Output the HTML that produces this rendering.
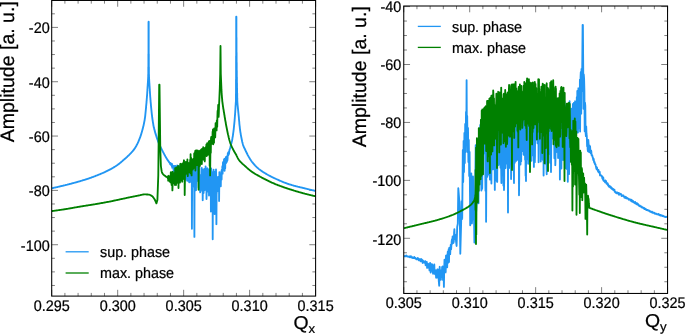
<!DOCTYPE html>
<html lang="en">
<head>
<meta charset="utf-8">
<title>Tune spectra: sup. phase vs max. phase</title>
<style>
html,body{margin:0;padding:0;background:#fff;}
body{width:685px;height:334px;overflow:hidden;font-family:"Liberation Sans", sans-serif;}
svg{display:block;}
</style>
</head>
<body>
<svg width="685" height="334" viewBox="0 0 685 334" font-family='"Liberation Sans", sans-serif' fill="#000" text-rendering="geometricPrecision">
<style>text{stroke:#000;stroke-width:0.24px;stroke-linejoin:round}</style>
<rect width="685" height="334" fill="#fff"/>
<g id="plot-left">
<clipPath id="cl"><rect x="51.7" y="0.45" width="263.90000000000003" height="295.65000000000003"/></clipPath>
<path d="M51.70,296.10v-6.30M51.70,0.45v6.30M64.90,296.10v-3.20M64.90,0.45v3.20M78.09,296.10v-3.20M78.09,0.45v3.20M91.28,296.10v-3.20M91.28,0.45v3.20M104.48,296.10v-3.20M104.48,0.45v3.20M117.68,296.10v-6.30M117.68,0.45v6.30M130.87,296.10v-3.20M130.87,0.45v3.20M144.06,296.10v-3.20M144.06,0.45v3.20M157.26,296.10v-3.20M157.26,0.45v3.20M170.46,296.10v-3.20M170.46,0.45v3.20M183.65,296.10v-6.30M183.65,0.45v6.30M196.85,296.10v-3.20M196.85,0.45v3.20M210.04,296.10v-3.20M210.04,0.45v3.20M223.24,296.10v-3.20M223.24,0.45v3.20M236.43,296.10v-3.20M236.43,0.45v3.20M249.62,296.10v-6.30M249.62,0.45v6.30M262.82,296.10v-3.20M262.82,0.45v3.20M276.01,296.10v-3.20M276.01,0.45v3.20M289.21,296.10v-3.20M289.21,0.45v3.20M302.41,296.10v-3.20M302.41,0.45v3.20M315.60,296.10v-6.30M315.60,0.45v6.30M51.70,13.82h3.20M315.60,13.82h-3.20M51.70,27.40h6.30M315.60,27.40h-6.30M51.70,40.98h3.20M315.60,40.98h-3.20M51.70,54.56h3.20M315.60,54.56h-3.20M51.70,68.15h3.20M315.60,68.15h-3.20M51.70,81.73h6.30M315.60,81.73h-6.30M51.70,95.31h3.20M315.60,95.31h-3.20M51.70,108.89h3.20M315.60,108.89h-3.20M51.70,122.48h3.20M315.60,122.48h-3.20M51.70,136.06h6.30M315.60,136.06h-6.30M51.70,149.64h3.20M315.60,149.64h-3.20M51.70,163.22h3.20M315.60,163.22h-3.20M51.70,176.81h3.20M315.60,176.81h-3.20M51.70,190.39h6.30M315.60,190.39h-6.30M51.70,203.97h3.20M315.60,203.97h-3.20M51.70,217.56h3.20M315.60,217.56h-3.20M51.70,231.14h3.20M315.60,231.14h-3.20M51.70,244.72h6.30M315.60,244.72h-6.30M51.70,258.30h3.20M315.60,258.30h-3.20M51.70,271.89h3.20M315.60,271.89h-3.20M51.70,285.47h3.20M315.60,285.47h-3.20" fill="none" stroke="#000" stroke-width="0.5"/>
<g clip-path="url(#cl)" fill="none" stroke-linejoin="round" stroke-linecap="butt">
<polyline points="51.7,188.3 52.2,188.2 52.7,188.1 53.2,188.0 53.7,187.9 54.2,187.7 54.7,187.6 55.2,187.5 55.7,187.4 56.2,187.3 56.7,187.2 57.2,187.1 57.7,187.0 58.2,186.8 58.7,186.7 59.2,186.6 59.7,186.5 60.2,186.4 60.7,186.2 61.2,186.1 61.7,186.0 62.2,185.9 62.7,185.8 63.2,185.6 63.7,185.5 64.2,185.4 64.7,185.3 65.2,185.2 65.7,185.0 66.2,184.9 66.7,184.8 67.2,184.7 67.7,184.5 68.2,184.4 68.7,184.3 69.2,184.1 69.7,184.0 70.2,183.9 70.7,183.8 71.2,183.6 71.7,183.5 72.2,183.4 72.7,183.2 73.2,183.1 73.7,183.0 74.2,182.8 74.7,182.7 75.2,182.6 75.7,182.4 76.2,182.3 76.7,182.1 77.2,182.0 77.7,181.9 78.2,181.7 78.7,181.6 79.2,181.4 79.7,181.3 80.2,181.1 80.7,181.0 81.2,180.8 81.7,180.7 82.2,180.5 82.7,180.4 83.2,180.2 83.7,180.1 84.2,179.9 84.7,179.8 85.2,179.6 85.7,179.4 86.2,179.3 86.7,179.1 87.2,179.0 87.7,178.8 88.2,178.6 88.7,178.5 89.2,178.3 89.7,178.1 90.2,177.9 90.7,177.8 91.2,177.6 91.7,177.4 92.2,177.2 92.7,177.1 93.2,176.9 93.7,176.7 94.2,176.5 94.7,176.3 95.2,176.1 95.7,175.9 96.2,175.7 96.7,175.5 97.2,175.3 97.7,175.1 98.2,174.9 98.7,174.7 99.2,174.5 99.7,174.3 100.2,174.1 100.7,173.9 101.2,173.7 101.7,173.5 102.2,173.2 102.7,173.0 103.2,172.8 103.7,172.6 104.2,172.3 104.7,172.1 105.2,171.9 105.7,171.6 106.2,171.4 106.7,171.2 107.2,170.9 107.7,170.7 108.2,170.4 108.7,170.2 109.2,169.9 109.7,169.7 110.2,169.4 110.7,169.1 111.2,168.9 111.7,168.6 112.2,168.3 112.7,168.0 113.2,167.7 113.7,167.4 114.2,167.1 114.7,166.8 115.2,166.5 115.7,166.2 116.2,165.8 116.7,165.5 117.2,165.1 117.7,164.8 118.2,164.4 118.7,164.1 119.2,163.7 119.7,163.3 120.2,162.9 120.7,162.5 121.2,162.0 121.7,161.6 122.2,161.2 122.7,160.7 123.2,160.3 123.5,160.0 123.9,159.7 124.4,159.2 125.0,158.7 125.6,158.2 126.2,157.7 126.7,157.2 127.3,156.7 127.8,156.2 128.3,155.7 128.9,155.2 129.4,154.7 129.9,154.2 130.4,153.7 130.9,153.2 131.3,152.7 131.8,152.2 132.2,151.7 132.7,151.2 133.1,150.7 133.5,150.2 133.9,149.7 134.2,149.2 134.6,148.7 134.9,148.2 135.2,147.7 135.5,147.2 135.8,146.7 136.1,146.2 136.4,145.7 136.6,145.2 136.9,144.7 137.2,144.2 137.4,143.7 137.7,143.2 137.9,142.7 138.1,142.2 138.4,141.7 138.6,141.2 138.8,140.7 139.0,140.2 139.2,139.7 139.4,139.2 139.6,138.7 139.8,138.2 140.0,137.7 140.2,137.2 140.4,136.7 140.5,136.2 140.7,135.7 140.9,135.2 141.0,134.7 141.2,134.2 141.3,133.7 141.5,133.2 141.6,132.7 141.8,132.2 141.9,131.7 142.1,131.2 142.2,130.7 142.3,130.2 142.5,129.7 142.6,129.2 142.7,128.7 142.9,128.2 143.0,127.7 143.1,127.2 143.2,126.7 143.4,126.2 143.5,125.7 143.6,125.2 143.7,124.7 143.8,124.2 143.9,123.7 144.0,123.2 144.1,122.7 144.2,122.2 144.3,121.7 144.4,121.2 144.5,120.7 144.6,120.2 144.7,119.7 144.7,119.2 144.8,118.7 144.9,118.2 145.0,117.7 145.0,117.2 145.1,116.7 145.2,116.2 145.2,115.7 145.3,115.2 145.3,114.7 145.4,114.2 145.4,113.7 145.5,113.2 145.5,112.7 145.6,112.2 145.6,111.7 145.7,111.2 145.7,110.7 145.8,110.2 145.8,109.7 145.9,109.2 145.9,108.7 146.0,108.2 146.0,107.7 146.1,107.2 146.1,106.7 146.1,106.2 146.2,105.7 146.2,105.2 146.3,104.7 146.3,104.2 146.4,103.7 146.4,103.2 146.5,102.7 146.5,102.2 146.5,101.7 146.6,101.2 146.6,100.7 146.7,100.2 146.7,99.7 146.7,99.2 146.8,98.7 146.8,98.2 146.9,97.7 146.9,97.2 146.9,96.7 147.0,96.2 147.0,95.7 147.1,95.2 147.1,94.7 147.1,94.2 147.2,93.7 147.2,93.2 147.2,92.7 147.3,92.2 147.3,91.7 147.3,91.2 147.4,90.7 147.4,90.2 147.4,89.7 147.4,89.2 147.5,88.7 147.5,88.2 147.5,87.7 147.6,87.2 147.6,86.7 147.6,86.2 147.7,85.7 147.7,85.2 147.7,84.7 147.8,84.2 147.8,83.7 147.8,83.2 147.9,82.7 147.9,82.2 147.9,81.7 148.0,81.2 148.0,80.7 148.0,80.2 148.0,79.7 148.1,79.2 148.1,78.7 148.1,78.2 148.1,77.7 148.2,77.2 148.2,76.7 148.2,76.2 148.2,75.7 148.2,75.2 148.2,74.7 148.3,74.2 148.3,73.7 148.3,73.2 148.3,72.7 148.3,72.2 148.3,71.7 148.3,71.2 148.3,70.7 148.3,70.2 148.3,69.7 148.3,69.2 148.3,68.7 148.3,68.2 148.3,67.7 148.3,67.2 148.4,66.7 148.4,66.2 148.4,65.7 148.4,65.2 148.4,64.7 148.4,64.2 148.4,63.7 148.4,63.2 148.4,62.7 148.4,62.2 148.4,61.7 148.4,61.2 148.4,60.7 148.4,60.2 148.4,59.7 148.4,59.2 148.4,58.7 148.4,58.2 148.4,57.7 148.4,57.2 148.4,56.7 148.4,56.2 148.4,55.7 148.4,55.2 148.4,54.7 148.4,54.2 148.5,53.7 148.5,53.2 148.5,52.7 148.5,52.2 148.5,51.7 148.5,51.2 148.5,50.7 148.5,50.2 148.5,49.7 148.5,49.2 148.5,48.7 148.5,48.2 148.5,47.7 148.5,47.2 148.5,46.7 148.5,46.2 148.5,45.7 148.5,45.2 148.5,44.7 148.5,44.2 148.5,43.7 148.5,43.2 148.5,42.7 148.5,42.2 148.5,41.7 148.5,41.2 148.5,40.7 148.5,40.2 148.5,39.7 148.5,39.2 148.5,38.7 148.5,38.2 148.5,37.7 148.5,37.2 148.5,36.7 148.5,36.2 148.5,35.7 148.5,35.2 148.5,34.7 148.5,34.2 148.5,33.7 148.5,33.2 148.5,32.7 148.5,32.2 148.5,31.7 148.5,31.2 148.5,30.7 148.5,30.2 148.5,29.7 148.5,29.2 148.5,28.7 148.5,28.2 148.5,27.7 148.5,27.2 148.5,26.7 148.5,26.2 148.5,25.7 148.5,25.2 148.5,24.7 148.5,24.2 148.5,23.7 148.5,23.2 148.5,22.7 148.5,22.2 148.6,21.7 148.7,21.7 148.7,22.2 148.7,22.7 148.7,23.2 148.7,23.7 148.7,24.2 148.7,24.7 148.7,25.2 148.7,25.7 148.7,26.2 148.7,26.7 148.7,27.2 148.7,27.7 148.7,28.2 148.7,28.7 148.7,29.2 148.7,29.7 148.7,30.2 148.7,30.7 148.7,31.2 148.7,31.7 148.7,32.2 148.7,32.7 148.7,33.2 148.7,33.7 148.7,34.2 148.7,34.7 148.7,35.2 148.7,35.7 148.7,36.2 148.7,36.7 148.7,37.2 148.7,37.7 148.7,38.2 148.7,38.7 148.7,39.2 148.7,39.7 148.7,40.2 148.7,40.7 148.7,41.2 148.7,41.7 148.7,42.2 148.7,42.7 148.7,43.2 148.7,43.7 148.7,44.2 148.7,44.7 148.7,45.2 148.7,45.7 148.7,46.2 148.7,46.7 148.7,47.2 148.7,47.7 148.7,48.2 148.7,48.7 148.7,49.2 148.7,49.7 148.7,50.2 148.7,50.7 148.7,51.2 148.7,51.7 148.7,52.2 148.7,52.7 148.7,53.2 148.7,53.7 148.8,54.2 148.8,54.7 148.8,55.2 148.8,55.7 148.8,56.2 148.8,56.7 148.8,57.2 148.8,57.7 148.8,58.2 148.8,58.7 148.8,59.2 148.8,59.7 148.8,60.2 148.8,60.7 148.8,61.2 148.8,61.7 148.8,62.2 148.8,62.7 148.8,63.2 148.8,63.7 148.8,64.2 148.8,64.7 148.8,65.2 148.8,65.7 148.8,66.2 148.8,66.7 148.9,67.2 148.9,67.7 148.9,68.2 148.9,68.7 148.9,69.2 148.9,69.7 148.9,70.2 148.9,70.7 148.9,71.2 148.9,71.7 148.9,72.2 148.9,72.7 148.9,73.2 148.9,73.7 148.9,74.2 149.0,74.7 149.0,75.2 149.0,75.7 149.0,76.2 149.0,76.7 149.0,77.2 149.1,77.7 149.1,78.2 149.1,78.7 149.1,79.2 149.2,79.7 149.2,80.2 149.2,80.7 149.2,81.2 149.3,81.7 149.3,82.2 149.3,82.7 149.4,83.2 149.4,83.7 149.4,84.2 149.5,84.7 149.5,85.2 149.5,85.7 149.6,86.2 149.6,86.7 149.6,87.2 149.7,87.7 149.7,88.2 149.7,88.7 149.8,89.2 149.8,89.7 149.8,90.2 149.8,90.7 149.9,91.2 149.9,91.7 149.9,92.2 150.0,92.7 150.0,93.2 150.0,93.7 150.1,94.2 150.1,94.7 150.1,95.2 150.2,95.7 150.2,96.2 150.2,96.7 150.3,97.2 150.3,97.7 150.4,98.2 150.4,98.7 150.4,99.2 150.5,99.7 150.5,100.2 150.6,100.7 150.6,101.2 150.6,101.7 150.7,102.2 150.7,102.7 150.8,103.2 150.8,103.7 150.9,104.2 150.9,104.7 150.9,105.2 151.0,105.7 151.0,106.2 151.1,106.7 151.1,107.2 151.2,107.7 151.2,108.2 151.3,108.7 151.3,109.2 151.4,109.7 151.4,110.2 151.5,110.7 151.5,111.2 151.6,111.7 151.6,112.2 151.7,112.7 151.7,113.2 151.8,113.7 151.8,114.2 151.9,114.7 152.0,115.2 152.0,115.7 152.1,116.2 152.1,116.7 152.2,117.2 152.3,117.7 152.3,118.2 152.4,118.7 152.5,119.2 152.5,119.7 152.6,120.2 152.7,120.7 152.8,121.2 152.8,121.7 152.9,122.2 153.0,122.7 153.1,123.2 153.2,123.7 153.3,124.2 153.3,124.7 153.4,125.2 153.5,125.7 153.6,126.2 153.7,126.7 153.8,127.2 153.9,127.7 154.1,128.2 154.2,128.7 154.3,129.2 154.4,129.7 154.6,130.2 154.7,130.7 154.8,131.2 155.0,131.7 155.1,132.2 155.2,132.7 155.4,133.2 155.5,133.7 155.7,134.2 155.8,134.7 156.0,135.2 156.2,135.7 156.3,136.2 156.5,136.7 156.6,137.2 156.8,137.7 157.0,138.2 157.1,138.7 157.3,139.2 157.5,139.7 157.7,140.2 157.9,140.7 158.0,141.2 158.2,141.7 158.4,142.2 158.6,142.7 158.9,143.2 159.1,143.7 159.3,144.2 159.5,144.7 159.7,145.2 160.0,145.7 160.2,146.2 160.4,146.7 160.7,147.2 160.9,147.7 161.2,148.2 161.4,148.7 161.7,149.2 161.9,149.7 162.2,150.2 162.4,150.7 162.7,151.2 162.9,151.7 163.2,152.2 163.5,152.7 163.7,153.2 164.0,153.7 164.2,154.2 164.5,154.7 164.8,155.2 165.1,155.7 165.3,156.2 165.6,156.7 165.9,157.2 166.2,157.7 166.5,158.2 166.8,158.7 167.1,159.2 167.4,159.7 167.7,160.2 168.1,160.7 168.4,161.2 168.8,161.7 169.1,162.2 169.5,162.7 169.7,163.0 170.0,162.9 170.2,164.3 170.4,163.3 170.6,163.0 170.8,164.6 171.0,164.6 171.2,165.2 171.4,163.9 171.6,164.3 171.8,166.2 172.0,164.0 172.2,167.7 172.4,165.7 172.6,167.5 172.8,166.6 173.0,166.2 173.2,165.8 173.4,166.6 173.6,170.1 173.8,171.1 174.0,167.8 174.2,167.6 174.4,167.1 174.6,172.2 174.8,166.0 175.0,167.7 175.2,165.9 175.4,166.5 175.6,171.4 175.8,166.3 176.0,169.4 176.2,167.7 176.4,169.1 176.6,167.5 176.8,167.1 177.0,167.1 177.2,165.5 177.4,169.7 177.6,174.0 177.8,174.9 178.0,166.0 178.2,174.8 178.4,166.7 178.6,172.7 178.8,174.8 179.0,166.1 179.2,167.9 179.4,168.5 179.6,168.2 179.8,171.1 180.0,166.3 180.2,170.2 180.4,175.7 180.6,166.9 180.8,171.0 181.0,171.6 181.2,175.1 181.4,177.4 181.6,174.4 181.8,169.7 182.0,174.1 182.2,168.9 182.4,174.8 182.6,173.5 182.8,178.3 183.0,176.6 183.2,165.6 183.4,170.1 183.6,177.2 183.8,173.9 184.0,170.8 184.2,168.0 184.4,176.2 184.6,166.6 184.8,167.4 185.0,179.7 185.2,176.4 185.4,177.9 185.6,172.2 185.8,166.8 186.0,172.3 186.2,170.6 186.4,166.8 186.6,166.9 186.8,168.2 187.0,180.0 187.2,180.9 187.4,176.0 187.6,176.4 187.8,176.7 188.0,173.1 188.2,169.3 188.4,179.9 188.6,180.1 188.8,177.4 189.0,181.4 189.2,182.4 189.4,173.9 189.6,178.6 189.8,176.1 190.0,168.1 190.2,171.2 190.4,167.6 190.6,181.9 190.8,165.9 191.0,174.9 191.2,168.1 191.4,167.7 191.6,168.0 191.8,183.3 191.9,228.7 192.2,172.4 192.4,187.0 192.6,176.8 192.8,171.8 193.0,172.1 193.2,180.0 193.4,167.1 193.6,182.0 193.8,185.5 194.0,175.0 194.2,173.9 194.4,236.9 194.6,173.7 194.8,183.0 195.0,173.6 195.2,179.1 195.4,165.6 195.6,169.1 195.8,168.8 196.0,190.2 196.2,165.6 196.4,169.1 196.6,165.8 196.8,180.6 197.0,181.0 197.2,172.7 197.4,165.8 197.6,175.1 197.8,168.9 198.0,175.2 198.2,173.8 198.4,170.0 198.6,187.5 198.8,183.0 199.0,176.3 199.2,174.3 199.4,167.0 199.6,180.3 199.8,177.4 200.0,190.1 200.2,192.3 200.4,187.4 200.6,189.3 200.8,178.3 201.0,175.0 201.2,177.9 201.4,178.4 201.6,187.7 201.8,167.9 202.0,180.7 202.2,190.9 202.4,169.7 202.6,171.4 202.7,200.2 203.0,182.5 203.2,193.3 203.4,182.3 203.6,192.9 203.8,188.6 204.0,183.5 204.2,168.9 204.4,169.5 204.6,190.2 204.8,173.0 205.0,184.7 205.2,177.0 205.4,177.7 205.6,166.4 205.8,189.4 206.0,173.6 206.2,175.0 206.4,168.5 206.5,199.0 206.8,188.4 207.0,180.1 207.2,179.1 207.4,188.1 207.6,168.3 207.8,180.7 208.0,187.4 208.2,175.5 208.4,191.8 208.6,178.9 208.8,170.0 209.0,195.5 209.2,179.0 209.4,188.1 209.6,169.3 209.8,189.8 210.0,170.3 210.2,169.7 210.4,173.6 210.6,177.8 210.8,179.6 210.9,211.5 211.2,168.5 211.4,183.3 211.6,187.9 211.8,195.6 212.0,182.1 212.2,194.1 212.4,194.7 212.6,172.9 212.7,239.2 213.0,172.0 213.2,188.0 213.4,173.3 213.6,169.7 213.8,194.1 214.0,185.6 214.2,194.5 214.4,175.3 214.6,214.0 214.8,172.0 215.0,193.9 215.2,172.7 215.4,189.5 215.6,173.9 215.8,190.9 216.0,169.5 216.2,177.0 216.4,224.2 216.6,194.1 216.8,191.6 217.0,176.8 217.2,177.9 217.4,185.9 217.6,183.8 217.8,191.0 218.0,185.1 218.2,180.9 218.4,190.8 218.6,176.6 218.8,177.4 219.0,177.0 219.1,201.0 219.4,172.1 219.6,179.1 219.8,176.3 220.0,174.7 220.2,174.4 220.4,184.0 220.6,175.0 220.8,186.3 221.0,174.3 221.2,179.0 221.4,171.1 221.6,179.6 221.8,169.8 222.0,169.7 222.2,168.9 222.4,166.1 222.6,173.7 222.8,168.3 223.0,162.1 223.2,167.5 223.4,166.2 223.6,166.0 223.8,168.7 224.0,159.5 224.2,164.6 224.4,159.0 224.6,170.8 224.8,165.7 225.0,159.3 225.2,168.2 225.4,158.7 225.6,160.2 225.8,157.1 226.0,159.6 226.2,162.9 226.4,156.8 226.6,162.2 226.8,158.6 227.0,161.1 227.2,156.0 227.4,160.5 227.6,158.5 227.8,153.4 228.0,155.2 228.2,152.5 228.4,155.3 228.6,152.8 228.8,154.0 229.0,154.0 229.2,151.7 229.5,150.0 229.6,149.8 229.7,149.3 229.9,148.8 230.0,148.3 230.2,147.8 230.3,147.3 230.4,146.8 230.6,146.3 230.7,145.8 230.9,145.3 231.0,144.8 231.1,144.3 231.2,143.8 231.4,143.3 231.5,142.8 231.6,142.3 231.7,141.8 231.8,141.3 232.0,140.8 232.1,140.3 232.2,139.8 232.3,139.3 232.4,138.8 232.4,138.3 232.5,137.8 232.6,137.3 232.7,136.8 232.8,136.3 232.9,135.8 232.9,135.3 233.0,134.8 233.1,134.3 233.1,133.8 233.2,133.3 233.3,132.8 233.3,132.3 233.4,131.8 233.5,131.3 233.5,130.8 233.6,130.3 233.7,129.8 233.7,129.3 233.8,128.8 233.8,128.3 233.9,127.8 233.9,127.3 234.0,126.8 234.0,126.3 234.1,125.8 234.1,125.3 234.2,124.8 234.2,124.3 234.3,123.8 234.3,123.3 234.4,122.8 234.4,122.3 234.5,121.8 234.5,121.3 234.6,120.8 234.6,120.3 234.6,119.8 234.7,119.3 234.7,118.8 234.8,118.3 234.8,117.8 234.8,117.3 234.9,116.8 234.9,116.3 234.9,115.8 235.0,115.3 235.0,114.8 235.1,114.3 235.1,113.8 235.1,113.3 235.2,112.8 235.2,112.3 235.2,111.8 235.3,111.3 235.3,110.8 235.3,110.3 235.4,109.8 235.4,109.3 235.4,108.8 235.5,108.3 235.5,107.8 235.5,107.3 235.5,106.8 235.6,106.3 235.6,105.8 235.6,105.3 235.7,104.8 235.7,104.3 235.7,103.8 235.8,103.3 235.8,102.8 235.8,102.3 235.9,101.8 235.9,101.3 235.9,100.8 235.9,100.3 235.9,99.8 235.9,99.3 235.9,98.8 235.9,98.3 235.9,97.8 235.9,97.3 235.9,96.8 235.9,96.3 235.9,95.8 235.9,95.3 235.9,94.8 235.9,94.3 236.0,93.8 236.0,93.3 236.0,92.8 236.0,92.3 236.0,91.8 236.0,91.3 236.0,90.8 236.0,90.3 236.0,89.8 236.0,89.3 236.0,88.8 236.0,88.3 236.0,87.8 236.0,87.3 236.0,86.8 236.0,86.3 236.0,85.8 236.0,85.3 236.0,84.8 236.0,84.3 236.0,83.8 236.0,83.3 236.0,82.8 236.0,82.3 236.0,81.8 236.0,81.3 236.0,80.8 236.0,80.3 236.0,79.8 236.1,79.3 236.1,78.8 236.1,78.3 236.1,77.8 236.1,77.3 236.1,76.8 236.1,76.3 236.1,75.8 236.1,75.3 236.1,74.8 236.1,74.3 236.1,73.8 236.1,73.3 236.1,72.8 236.1,72.3 236.1,71.8 236.1,71.3 236.1,70.8 236.1,70.3 236.1,69.8 236.1,69.3 236.1,68.8 236.1,68.3 236.1,67.8 236.1,67.3 236.1,66.8 236.1,66.3 236.1,65.8 236.1,65.3 236.1,64.8 236.1,64.3 236.1,63.8 236.1,63.3 236.1,62.8 236.1,62.3 236.1,61.8 236.1,61.3 236.1,60.8 236.1,60.3 236.1,59.8 236.1,59.3 236.1,58.8 236.1,58.3 236.1,57.8 236.1,57.3 236.1,56.8 236.1,56.3 236.2,55.8 236.2,55.3 236.2,54.8 236.2,54.3 236.2,53.8 236.2,53.3 236.2,52.8 236.2,52.3 236.2,51.8 236.2,51.3 236.2,50.8 236.2,50.3 236.2,49.8 236.2,49.3 236.2,48.8 236.2,48.3 236.2,47.8 236.2,47.3 236.2,46.8 236.2,46.3 236.2,45.8 236.2,45.3 236.2,44.8 236.2,44.3 236.2,43.8 236.2,43.3 236.2,42.8 236.2,42.3 236.2,41.8 236.2,41.3 236.2,40.8 236.2,40.3 236.2,39.8 236.2,39.3 236.2,38.8 236.2,38.3 236.2,37.8 236.2,37.3 236.2,36.8 236.2,36.3 236.2,35.8 236.2,35.3 236.2,34.8 236.2,34.3 236.2,33.8 236.2,33.3 236.2,32.8 236.2,32.3 236.2,31.8 236.2,31.3 236.2,30.8 236.2,30.3 236.2,29.8 236.2,29.3 236.2,28.8 236.2,28.3 236.2,27.8 236.2,27.3 236.2,26.8 236.2,26.3 236.2,25.8 236.2,25.3 236.2,24.8 236.2,24.3 236.2,23.8 236.2,23.3 236.2,22.8 236.2,22.3 236.2,21.8 236.2,21.3 236.2,20.8 236.2,20.3 236.2,19.8 236.2,19.3 236.2,18.8 236.2,18.3 236.2,17.8 236.2,17.3 236.2,16.8 236.4,16.8 236.4,17.3 236.4,17.8 236.4,18.3 236.4,18.8 236.4,19.3 236.4,19.8 236.4,20.3 236.4,20.8 236.4,21.3 236.4,21.8 236.4,22.3 236.4,22.8 236.4,23.3 236.4,23.8 236.4,24.3 236.4,24.8 236.4,25.3 236.4,25.8 236.4,26.3 236.4,26.8 236.4,27.3 236.4,27.8 236.4,28.3 236.4,28.8 236.4,29.3 236.4,29.8 236.4,30.3 236.4,30.8 236.4,31.3 236.4,31.8 236.4,32.3 236.4,32.8 236.4,33.3 236.4,33.8 236.4,34.3 236.4,34.8 236.4,35.3 236.4,35.8 236.4,36.3 236.4,36.8 236.4,37.3 236.5,37.8 236.5,38.3 236.5,38.8 236.5,39.3 236.5,39.8 236.5,40.3 236.5,40.8 236.5,41.3 236.5,41.8 236.5,42.3 236.5,42.8 236.5,43.3 236.5,43.8 236.5,44.3 236.5,44.8 236.5,45.3 236.5,45.8 236.5,46.3 236.5,46.8 236.5,47.3 236.5,47.8 236.5,48.3 236.5,48.8 236.5,49.3 236.5,49.8 236.5,50.3 236.5,50.8 236.5,51.3 236.5,51.8 236.5,52.3 236.6,52.8 236.6,53.3 236.6,53.8 236.6,54.3 236.6,54.8 236.6,55.3 236.6,55.8 236.6,56.3 236.6,56.8 236.6,57.3 236.6,57.8 236.6,58.3 236.6,58.8 236.6,59.3 236.6,59.8 236.6,60.3 236.6,60.8 236.6,61.3 236.6,61.8 236.6,62.3 236.7,62.8 236.7,63.3 236.7,63.8 236.7,64.3 236.7,64.8 236.7,65.3 236.7,65.8 236.7,66.3 236.7,66.8 236.7,67.3 236.7,67.8 236.7,68.3 236.7,68.8 236.7,69.3 236.7,69.8 236.7,70.3 236.8,70.8 236.8,71.3 236.8,71.8 236.8,72.3 236.8,72.8 236.8,73.3 236.8,73.8 236.8,74.3 236.8,74.8 236.8,75.3 236.8,75.8 236.8,76.3 236.8,76.8 236.9,77.3 236.9,77.8 236.9,78.3 236.9,78.8 236.9,79.3 236.9,79.8 236.9,80.3 236.9,80.8 236.9,81.3 236.9,81.8 236.9,82.3 236.9,82.8 237.0,83.3 237.0,83.8 237.0,84.3 237.0,84.8 237.0,85.3 237.0,85.8 237.0,86.3 237.0,86.8 237.0,87.3 237.0,87.8 237.0,88.3 237.1,88.8 237.1,89.3 237.1,89.8 237.1,90.3 237.1,90.8 237.1,91.3 237.1,91.8 237.1,92.3 237.1,92.8 237.2,93.3 237.2,93.8 237.2,94.3 237.2,94.8 237.2,95.3 237.2,95.8 237.2,96.3 237.2,96.8 237.2,97.3 237.2,97.8 237.3,98.3 237.3,98.8 237.3,99.3 237.3,99.8 237.3,100.3 237.3,100.8 237.3,101.3 237.4,101.8 237.4,102.3 237.4,102.8 237.5,103.3 237.5,103.8 237.5,104.3 237.6,104.8 237.6,105.3 237.7,105.8 237.7,106.3 237.8,106.8 237.8,107.3 237.9,107.8 237.9,108.3 238.0,108.8 238.0,109.3 238.1,109.8 238.1,110.3 238.2,110.8 238.2,111.3 238.3,111.8 238.3,112.3 238.4,112.8 238.4,113.3 238.5,113.8 238.5,114.3 238.6,114.8 238.6,115.3 238.7,115.8 238.7,116.3 238.8,116.8 238.8,117.3 238.9,117.8 238.9,118.3 238.9,118.8 239.0,119.3 239.0,119.8 239.1,120.3 239.1,120.8 239.2,121.3 239.2,121.8 239.3,122.3 239.3,122.8 239.3,123.3 239.4,123.8 239.4,124.3 239.5,124.8 239.5,125.3 239.6,125.8 239.7,126.3 239.7,126.8 239.8,127.3 239.8,127.8 239.9,128.3 239.9,128.8 240.0,129.3 240.1,129.8 240.1,130.3 240.2,130.8 240.3,131.3 240.3,131.8 240.4,132.3 240.5,132.8 240.6,133.3 240.7,133.8 240.7,134.3 240.8,134.8 240.9,135.3 241.0,135.8 241.1,136.3 241.2,136.8 241.3,137.3 241.4,137.8 241.5,138.3 241.6,138.8 241.7,139.3 241.8,139.8 241.9,140.3 242.0,140.8 242.1,141.3 242.2,141.8 242.4,142.3 242.5,142.8 242.6,143.3 242.8,143.8 242.9,144.3 243.0,144.8 243.2,145.3 243.4,145.8 243.6,146.3 243.8,146.8 244.0,147.3 244.2,147.8 244.5,148.3 244.7,148.8 245.0,149.3 245.2,149.8 245.4,150.3 245.7,150.8 245.9,151.3 246.1,151.8 246.4,152.3 246.6,152.8 246.9,153.3 247.1,153.8 247.4,154.3 247.6,154.8 247.7,155.0 248.2,155.9 248.7,156.8 249.2,157.6 249.7,158.4 250.2,159.2 250.7,160.0 251.2,160.8 251.7,161.5 252.2,162.1 252.7,162.7 253.2,163.3 253.7,163.9 254.2,164.5 254.7,165.0 255.2,165.6 255.7,166.1 256.2,166.6 256.7,167.1 257.2,167.5 257.7,168.0 258.2,168.4 258.7,168.9 259.2,169.3 259.7,169.6 260.2,170.0 260.7,170.4 261.2,170.7 261.7,171.1 262.2,171.4 262.7,171.8 263.2,172.1 263.7,172.4 264.2,172.7 264.7,173.0 265.2,173.3 265.7,173.6 266.2,173.9 266.7,174.2 267.2,174.5 267.7,174.8 268.2,175.0 268.7,175.3 269.2,175.6 269.7,175.8 270.2,176.1 270.7,176.4 271.2,176.6 271.7,176.9 272.2,177.1 272.7,177.3 273.2,177.6 273.7,177.8 274.2,178.1 274.7,178.3 275.2,178.5 275.7,178.8 276.2,179.0 276.7,179.2 277.2,179.5 277.7,179.7 278.2,179.9 278.7,180.2 279.2,180.4 279.7,180.6 280.2,180.8 280.7,181.0 281.2,181.2 281.7,181.5 282.2,181.7 282.7,181.9 283.2,182.1 283.7,182.3 284.2,182.5 284.7,182.7 285.2,182.9 285.7,183.0 286.2,183.2 286.7,183.4 287.2,183.6 287.7,183.8 288.2,183.9 288.7,184.1 289.2,184.3 289.7,184.4 290.2,184.6 290.7,184.7 291.2,184.9 291.7,185.0 292.2,185.2 292.7,185.3 293.2,185.5 293.7,185.6 294.2,185.8 294.7,185.9 295.2,186.0 295.7,186.1 296.2,186.3 296.7,186.4 297.2,186.5 297.7,186.7 298.2,186.8 298.7,186.9 299.2,187.0 299.7,187.1 300.2,187.3 300.7,187.4 301.2,187.5 301.7,187.6 302.2,187.7 302.7,187.9 303.2,188.0 303.7,188.1 304.2,188.2 304.7,188.4 305.2,188.5 305.7,188.6 306.2,188.7 306.7,188.8 307.2,189.0 307.7,189.1 308.2,189.2 308.7,189.3 309.2,189.5 309.7,189.6 310.2,189.7 310.7,189.8 311.2,189.9 311.7,190.1 312.2,190.2 312.7,190.3 313.2,190.4 313.7,190.5 314.2,190.6 314.7,190.8 315.2,190.9 315.3,190.9" stroke="#2196f3" stroke-width="1.85"/>
<polyline points="51.7,211.1 52.2,211.0 52.7,211.0 53.2,210.9 53.7,210.8 54.2,210.8 54.7,210.7 55.2,210.6 55.7,210.6 56.2,210.5 56.7,210.4 57.2,210.4 57.7,210.3 58.2,210.2 58.7,210.1 59.2,210.1 59.7,210.0 60.2,209.9 60.7,209.9 61.2,209.8 61.7,209.7 62.2,209.6 62.7,209.6 63.2,209.5 63.7,209.4 64.2,209.3 64.7,209.2 65.2,209.2 65.7,209.1 66.2,209.0 66.7,208.9 67.2,208.8 67.7,208.8 68.2,208.7 68.7,208.6 69.2,208.5 69.7,208.4 70.2,208.3 70.7,208.2 71.2,208.2 71.7,208.1 72.2,208.0 72.7,207.9 73.2,207.8 73.7,207.7 74.2,207.6 74.7,207.5 75.2,207.4 75.7,207.3 76.2,207.3 76.7,207.2 77.2,207.1 77.7,207.0 78.2,206.9 78.7,206.8 79.2,206.7 79.7,206.7 80.2,206.6 80.7,206.5 81.2,206.4 81.7,206.3 82.2,206.2 82.7,206.2 83.2,206.1 83.7,206.0 84.2,205.9 84.7,205.8 85.2,205.8 85.7,205.7 86.2,205.6 86.7,205.5 87.2,205.5 87.7,205.4 88.2,205.3 88.7,205.2 89.2,205.1 89.7,205.1 90.2,205.0 90.7,204.9 91.2,204.8 91.7,204.7 92.2,204.7 92.7,204.6 93.2,204.5 93.7,204.4 94.2,204.3 94.7,204.3 95.2,204.2 95.7,204.1 96.2,204.0 96.7,203.9 97.2,203.8 97.7,203.7 98.2,203.7 98.7,203.6 99.2,203.5 99.7,203.4 100.2,203.3 100.7,203.2 101.2,203.1 101.7,203.0 102.2,203.0 102.7,202.9 103.2,202.8 103.7,202.7 104.2,202.6 104.7,202.5 105.2,202.4 105.7,202.3 106.2,202.2 106.7,202.1 107.2,202.0 107.7,201.9 108.2,201.8 108.7,201.8 109.2,201.7 109.7,201.6 110.2,201.5 110.7,201.4 111.2,201.3 111.7,201.2 112.2,201.1 112.7,201.0 113.2,200.9 113.7,200.7 114.2,200.6 114.7,200.5 115.2,200.4 115.7,200.3 116.2,200.2 116.7,200.1 117.2,200.0 117.7,199.9 118.2,199.8 118.7,199.7 119.2,199.6 119.7,199.4 120.2,199.3 120.7,199.2 121.2,199.1 121.7,199.0 122.2,198.9 122.7,198.8 123.2,198.7 123.7,198.6 124.2,198.5 124.7,198.4 125.2,198.3 125.7,198.2 126.2,198.0 126.7,197.9 127.2,197.8 127.7,197.7 128.2,197.6 128.7,197.5 129.2,197.4 129.7,197.3 130.2,197.2 130.7,197.1 131.2,197.0 131.7,196.9 132.2,196.8 132.7,196.7 133.2,196.6 133.7,196.5 134.2,196.4 134.7,196.3 135.2,196.2 135.7,196.1 136.2,196.0 136.7,195.9 137.2,195.8 137.7,195.7 138.2,195.6 138.7,195.5 139.2,195.4 139.7,195.3 140.2,195.2 140.7,195.0 141.2,194.9 141.7,194.8 142.2,194.7 142.7,194.6 143.2,194.5 143.7,194.4 144.2,194.4 144.7,194.4 145.2,194.4 145.7,194.4 146.2,194.4 146.7,194.5 147.2,194.5 147.7,194.5 148.2,194.6 148.7,194.6 149.2,194.7 149.7,194.8 150.2,195.0 150.7,195.3 151.2,195.6 151.7,195.9 152.2,196.2 152.7,196.7 153.2,197.3 153.7,198.0 154.2,198.7 154.7,199.5 155.2,200.5 155.7,201.6 156.2,202.9 156.4,203.4 157.4,200.0 158.3,175.0 159.2,84.7 159.5,84.7 160.3,150.0 160.9,166.0 161.3,169.0 161.7,171.4 162.1,172.7 162.5,173.5 162.9,174.0 163.3,174.5 163.7,174.8 164.1,175.2 164.5,175.5 164.9,175.8 165.3,176.1 165.7,176.4 166.1,176.7 166.5,176.9 166.9,177.0 167.3,177.1 167.6,177.2 167.8,178.4 168.0,177.4 168.2,180.6 168.4,175.8 168.6,178.3 168.8,179.5 169.0,180.8 169.2,180.1 169.4,177.0 169.6,181.5 169.8,181.3 170.0,176.2 170.2,176.8 170.4,175.6 170.6,182.3 170.8,172.3 171.0,182.8 171.2,179.4 171.4,176.1 171.6,185.0 171.8,185.2 172.0,185.4 172.2,172.0 172.4,190.4 172.6,184.6 172.8,172.0 173.0,175.5 173.2,177.7 173.4,174.2 173.6,178.7 173.8,178.0 174.0,183.0 174.2,173.3 174.4,181.5 174.6,176.2 174.8,184.9 175.0,182.8 175.2,168.1 175.4,174.2 175.6,171.1 175.8,175.3 176.0,185.1 176.2,176.8 176.4,167.4 176.6,179.8 176.8,169.4 177.0,174.0 177.2,177.3 177.4,182.7 177.6,171.2 177.8,177.6 178.0,166.0 178.2,166.2 178.4,172.4 178.5,188.0 178.8,169.4 179.0,178.1 179.2,169.3 179.4,168.1 179.6,176.6 179.8,176.7 180.0,182.5 180.2,164.7 180.4,163.8 180.6,178.9 180.8,166.9 181.0,180.3 181.2,174.2 181.4,174.6 181.6,164.3 181.8,173.7 182.0,179.4 182.2,181.7 182.4,167.9 182.6,163.5 182.8,179.2 183.0,168.2 183.2,168.9 183.4,169.5 183.6,171.0 183.8,161.2 184.0,160.3 184.2,175.4 184.4,173.4 184.6,168.8 184.7,195.0 185.0,174.6 185.2,166.6 185.4,168.3 185.6,164.2 185.8,162.0 186.0,170.8 186.2,173.8 186.4,170.9 186.6,164.2 186.8,171.6 187.0,166.9 187.2,167.4 187.4,159.4 187.6,173.9 187.8,176.1 188.0,162.7 188.2,164.0 188.4,166.6 188.6,164.4 188.8,164.5 189.0,172.2 189.2,170.0 189.4,163.0 189.6,169.3 189.8,170.2 190.0,163.8 190.2,159.7 190.4,173.4 190.6,154.2 190.8,169.6 191.0,171.7 191.2,158.0 191.4,165.8 191.6,175.4 191.8,159.3 192.0,166.3 192.2,162.8 192.4,163.2 192.6,169.6 192.8,165.0 193.0,159.3 193.2,168.6 193.4,164.4 193.6,158.8 193.8,164.8 194.0,167.9 194.2,153.4 194.4,154.2 194.6,158.0 194.8,155.5 195.0,162.5 195.2,151.0 195.4,170.5 195.6,165.9 195.8,158.3 196.0,152.3 196.2,150.3 196.4,165.2 196.6,161.5 196.8,158.0 197.0,155.7 197.2,150.5 197.4,165.0 197.6,152.1 197.8,153.2 198.0,152.3 198.2,159.5 198.4,153.3 198.6,189.7 198.8,165.9 199.0,150.8 199.2,151.5 199.4,162.4 199.6,156.2 199.8,166.2 200.0,165.1 200.2,158.1 200.4,150.5 200.6,153.0 200.8,159.6 201.0,152.6 201.2,156.4 201.4,149.4 201.6,157.0 201.8,164.0 202.0,157.6 202.2,151.5 202.4,148.6 202.6,156.7 202.8,155.7 203.0,159.2 203.2,147.2 203.4,149.1 203.6,156.3 203.8,155.5 204.0,157.4 204.2,160.2 204.4,157.7 204.6,154.6 204.8,161.4 205.0,149.5 205.2,147.7 205.4,149.5 205.6,154.6 205.8,147.1 206.0,150.8 206.2,149.7 206.4,144.5 206.6,156.1 206.8,155.9 207.0,145.8 207.2,143.1 207.4,151.4 207.6,146.1 207.8,151.2 208.0,148.1 208.2,154.7 208.4,146.3 208.6,148.4 208.8,141.5 209.0,145.2 209.2,153.7 209.4,140.9 209.6,150.4 209.7,166.0 210.0,147.0 210.1,175.4 210.4,151.8 210.6,143.6 210.8,152.7 211.0,138.6 211.2,137.0 211.4,144.0 211.6,143.1 211.8,141.3 212.0,137.5 212.2,139.4 212.4,141.0 212.6,131.8 212.8,132.0 213.0,129.4 213.2,144.3 213.4,139.4 213.6,133.0 213.8,137.4 214.0,142.7 214.2,128.5 214.4,129.5 214.6,131.1 214.8,132.6 215.0,130.2 215.2,137.4 215.4,131.2 215.6,123.2 215.8,124.7 216.0,126.9 216.2,129.2 216.4,126.8 216.6,130.4 216.8,120.5 217.0,123.1 217.2,126.8 217.4,117.1 217.6,111.1 217.8,110.3 218.0,111.4 218.2,104.9 218.4,109.1 218.6,116.9 218.8,113.4 219.0,106.5 219.3,100.0 219.8,88.0 220.2,74.0 220.5,46.0 220.8,74.0 221.4,88.0 221.4,88.5 221.4,89.0 221.5,89.5 221.5,90.0 221.5,90.5 221.5,91.0 221.6,91.5 221.6,92.0 221.6,92.5 221.6,93.0 221.7,93.5 221.7,94.0 221.7,94.5 221.8,95.0 221.8,95.5 221.9,96.0 221.9,96.5 221.9,97.0 222.0,97.5 222.0,98.0 222.1,98.5 222.1,99.0 222.2,99.5 222.2,100.0 222.2,100.5 222.3,101.0 222.3,101.5 222.4,102.0 222.5,102.5 222.5,103.0 222.6,103.5 222.7,104.0 222.7,104.5 222.8,105.0 222.9,105.5 222.9,106.0 223.0,106.5 223.1,107.0 223.2,107.5 223.2,108.0 223.3,108.5 223.4,109.0 223.5,109.5 223.6,110.0 223.7,110.5 223.7,111.0 223.8,111.5 223.9,112.0 224.0,112.5 224.1,113.0 224.2,113.5 224.2,114.0 224.3,114.5 224.4,115.0 224.5,115.5 224.6,116.0 224.6,116.5 224.7,117.0 224.8,117.5 224.9,118.0 225.0,118.5 225.1,119.0 225.1,119.5 225.2,120.0 225.3,120.5 225.4,121.0 225.5,121.5 225.6,122.0 225.7,122.5 225.8,123.0 225.8,123.5 225.9,124.0 226.0,124.5 226.1,125.0 226.2,125.5 226.3,126.0 226.4,126.5 226.5,127.0 226.6,127.5 226.7,128.0 226.8,128.5 226.9,129.0 227.0,129.5 227.1,130.0 227.2,130.5 227.3,131.0 227.4,131.5 227.5,132.0 227.6,132.5 227.7,133.0 227.8,133.5 227.9,134.0 228.0,134.5 228.2,135.0 228.3,135.5 228.4,136.0 228.5,136.5 228.6,137.0 228.7,137.5 228.9,138.0 229.0,138.5 229.1,139.0 229.2,139.5 229.4,140.0 229.5,140.5 229.7,141.0 229.8,141.5 230.0,142.0 230.1,142.5 230.3,143.0 230.4,143.5 230.6,144.0 230.8,144.5 231.0,145.0 231.2,145.5 231.4,146.0 231.7,146.5 231.9,147.0 232.1,147.5 232.4,148.0 232.6,148.5 232.9,149.0 233.1,149.5 233.4,150.0 233.7,150.5 233.9,151.0 234.2,151.5 234.5,152.0 234.8,152.5 235.1,153.0 235.4,153.5 235.7,154.0 236.0,154.5 236.3,155.0 236.8,156.1 237.3,157.1 237.8,158.1 238.3,159.0 238.8,159.8 239.3,160.5 239.8,161.1 240.3,161.7 240.8,162.2 241.3,162.7 241.8,163.2 242.3,163.7 242.8,164.1 243.3,164.5 243.8,164.9 244.3,165.4 244.8,165.8 245.3,166.3 245.8,166.7 246.3,167.2 246.8,167.6 247.3,168.1 247.8,168.5 248.3,169.0 248.8,169.4 249.3,169.8 249.8,170.2 250.3,170.6 250.8,171.0 251.3,171.4 251.8,171.7 252.3,172.1 252.8,172.4 253.3,172.7 253.8,173.0 254.3,173.4 254.8,173.7 255.3,174.0 255.8,174.3 256.3,174.5 256.8,174.8 257.3,175.1 257.8,175.4 258.3,175.7 258.8,175.9 259.3,176.2 259.8,176.5 260.3,176.8 260.8,177.0 261.3,177.3 261.8,177.6 262.3,177.8 262.8,178.1 263.3,178.4 263.8,178.6 264.3,178.9 264.8,179.1 265.3,179.4 265.8,179.7 266.3,179.9 266.8,180.2 267.3,180.4 267.8,180.7 268.3,180.9 268.8,181.1 269.3,181.4 269.8,181.6 270.3,181.9 270.8,182.1 271.3,182.3 271.8,182.6 272.3,182.8 272.8,183.0 273.3,183.2 273.8,183.4 274.3,183.6 274.8,183.9 275.3,184.1 275.8,184.3 276.3,184.5 276.8,184.7 277.3,184.9 277.8,185.1 278.3,185.3 278.8,185.4 279.3,185.6 279.8,185.8 280.3,186.0 280.8,186.2 281.3,186.4 281.8,186.6 282.3,186.7 282.8,186.9 283.3,187.1 283.8,187.3 284.3,187.4 284.8,187.6 285.3,187.8 285.8,187.9 286.3,188.1 286.8,188.3 287.3,188.4 287.8,188.6 288.3,188.8 288.8,188.9 289.3,189.1 289.8,189.3 290.3,189.4 290.8,189.6 291.3,189.7 291.8,189.9 292.3,190.1 292.8,190.2 293.3,190.4 293.8,190.5 294.3,190.7 294.8,190.8 295.3,191.0 295.8,191.1 296.3,191.3 296.8,191.4 297.3,191.6 297.8,191.7 298.3,191.9 298.8,192.0 299.3,192.2 299.8,192.3 300.3,192.4 300.8,192.6 301.3,192.7 301.8,192.9 302.3,193.0 302.8,193.1 303.3,193.3 303.8,193.4 304.3,193.5 304.8,193.7 305.3,193.8 305.8,193.9 306.3,194.1 306.8,194.2 307.3,194.3 307.8,194.4 308.3,194.6 308.8,194.7 309.3,194.8 309.8,194.9 310.3,195.1 310.8,195.2 311.3,195.3 311.8,195.4 312.3,195.5 312.8,195.6 313.3,195.8 313.8,195.9 314.3,196.0 314.8,196.1 315.3,196.2" stroke="#008000" stroke-width="1.85"/>
</g>
<rect x="51.70" y="0.45" width="263.90" height="295.65" fill="none" stroke="#000" stroke-width="1.05"/>
<text transform="translate(51.70,310.50) scale(0.937,1)" font-size="15.4" text-anchor="middle">0.295</text>
<text transform="translate(117.68,310.50) scale(0.937,1)" font-size="15.4" text-anchor="middle">0.300</text>
<text transform="translate(183.65,310.50) scale(0.937,1)" font-size="15.4" text-anchor="middle">0.305</text>
<text transform="translate(249.62,310.50) scale(0.937,1)" font-size="15.4" text-anchor="middle">0.310</text>
<text transform="translate(315.60,310.50) scale(0.937,1)" font-size="15.4" text-anchor="middle">0.315</text>
<text transform="translate(49.70,33.25) scale(0.937,1)" font-size="15.4" text-anchor="end">-20</text>
<text transform="translate(49.70,87.58) scale(0.937,1)" font-size="15.4" text-anchor="end">-40</text>
<text transform="translate(49.70,141.91) scale(0.937,1)" font-size="15.4" text-anchor="end">-60</text>
<text transform="translate(49.70,196.24) scale(0.937,1)" font-size="15.4" text-anchor="end">-80</text>
<text transform="translate(49.70,250.57) scale(0.937,1)" font-size="15.4" text-anchor="end">-100</text>
<text transform="translate(14.1,142.3) rotate(-90)" font-size="19.55">Amplitude [a. u.]</text>
<text transform="translate(315.2,329.1) scale(1.045,1)" font-size="18.6" text-anchor="end">Q<tspan font-size="12.7" dy="3.8">x</tspan></text>
<path d="M65.6,251.8H88.7" stroke="#2196f3" stroke-width="1.3" fill="none"/>
<path d="M65.6,273.0H88.7" stroke="#008000" stroke-width="1.3" fill="none"/>
<text transform="translate(100.00,256.90) scale(0.962,1)" font-size="14.9" text-anchor="start">sup. phase</text>
<text transform="translate(100.00,278.30) scale(0.962,1)" font-size="14.9" text-anchor="start">max. phase</text>
</g>
<g id="plot-right">
<clipPath id="cr"><rect x="403.75" y="6.0" width="263.79999999999995" height="287.45"/></clipPath>
<path d="M403.75,293.45v-6.30M403.75,6.00v6.30M416.94,293.45v-3.20M416.94,6.00v3.20M430.13,293.45v-3.20M430.13,6.00v3.20M443.32,293.45v-3.20M443.32,6.00v3.20M456.51,293.45v-3.20M456.51,6.00v3.20M469.70,293.45v-6.30M469.70,6.00v6.30M482.89,293.45v-3.20M482.89,6.00v3.20M496.08,293.45v-3.20M496.08,6.00v3.20M509.27,293.45v-3.20M509.27,6.00v3.20M522.46,293.45v-3.20M522.46,6.00v3.20M535.65,293.45v-6.30M535.65,6.00v6.30M548.84,293.45v-3.20M548.84,6.00v3.20M562.03,293.45v-3.20M562.03,6.00v3.20M575.22,293.45v-3.20M575.22,6.00v3.20M588.41,293.45v-3.20M588.41,6.00v3.20M601.60,293.45v-6.30M601.60,6.00v6.30M614.79,293.45v-3.20M614.79,6.00v3.20M627.98,293.45v-3.20M627.98,6.00v3.20M641.17,293.45v-3.20M641.17,6.00v3.20M654.36,293.45v-3.20M654.36,6.00v3.20M667.55,293.45v-6.30M667.55,6.00v6.30M403.75,6.57h6.30M667.55,6.57h-6.30M403.75,21.05h3.20M667.55,21.05h-3.20M403.75,35.54h3.20M667.55,35.54h-3.20M403.75,50.02h3.20M667.55,50.02h-3.20M403.75,64.50h6.30M667.55,64.50h-6.30M403.75,78.98h3.20M667.55,78.98h-3.20M403.75,93.47h3.20M667.55,93.47h-3.20M403.75,107.95h3.20M667.55,107.95h-3.20M403.75,122.43h6.30M667.55,122.43h-6.30M403.75,136.91h3.20M667.55,136.91h-3.20M403.75,151.39h3.20M667.55,151.39h-3.20M403.75,165.88h3.20M667.55,165.88h-3.20M403.75,180.36h6.30M667.55,180.36h-6.30M403.75,194.84h3.20M667.55,194.84h-3.20M403.75,209.32h3.20M667.55,209.32h-3.20M403.75,223.81h3.20M667.55,223.81h-3.20M403.75,238.29h6.30M667.55,238.29h-6.30M403.75,252.77h3.20M667.55,252.77h-3.20M403.75,267.25h3.20M667.55,267.25h-3.20M403.75,281.74h3.20M667.55,281.74h-3.20" fill="none" stroke="#000" stroke-width="0.5"/>
<g clip-path="url(#cr)" fill="none" stroke-linejoin="round" stroke-linecap="butt">
<polyline points="404.0,256.2 404.3,256.2 404.6,256.3 404.9,256.2 405.2,256.3 405.5,256.4 405.8,256.3 406.1,255.6 406.4,255.4 406.7,256.0 407.0,256.2 407.3,256.5 407.6,256.4 407.9,256.6 408.2,256.4 408.5,256.6 408.8,256.9 409.1,256.7 409.4,256.6 409.7,257.2 410.0,256.3 410.3,256.5 410.6,257.1 410.9,256.2 411.2,257.5 411.5,257.4 411.8,257.6 412.1,257.2 412.4,257.2 412.7,258.0 413.0,258.1 413.3,258.1 413.6,258.1 413.9,258.1 414.2,256.9 414.5,257.3 414.8,258.2 415.1,257.8 415.4,257.9 415.7,258.4 416.0,258.9 416.3,259.3 416.6,259.4 416.9,259.1 417.2,258.9 417.5,258.2 417.8,257.9 418.1,259.5 418.4,258.8 418.7,260.3 419.0,259.2 419.3,260.2 419.6,259.2 419.9,260.6 420.2,259.4 420.5,260.7 420.8,261.3 421.1,259.0 421.4,260.1 421.7,259.6 422.0,259.7 422.3,260.1 422.6,263.0 422.9,260.5 423.2,262.5 423.5,261.2 423.8,261.3 424.1,261.3 424.4,262.7 424.7,262.8 425.0,262.2 425.3,261.1 425.6,265.2 425.9,263.9 426.2,264.2 426.5,265.5 426.8,262.0 427.1,267.9 427.4,267.1 427.7,267.5 428.0,267.6 428.3,263.8 428.6,267.5 428.9,264.5 429.2,266.9 429.5,270.4 429.8,267.5 430.1,262.9 430.4,269.9 430.7,272.6 431.0,271.1 431.3,270.2 431.6,264.2 431.9,266.6 432.2,264.3 432.5,268.6 432.8,271.5 433.1,273.8 433.4,268.4 433.7,268.5 434.0,266.4 434.3,264.5 434.6,273.7 434.9,270.3 435.2,272.5 435.5,274.7 435.8,270.3 436.1,277.6 436.4,272.1 436.7,273.2 437.0,277.7 437.3,269.4 437.6,276.7 437.9,269.3 438.2,277.7 438.5,275.5 438.8,281.3 439.2,285.7 439.4,277.9 439.7,266.8 440.0,278.0 440.3,275.2 440.6,270.1 440.9,279.7 441.2,270.5 441.5,275.2 441.8,277.2 442.1,266.9 442.4,274.8 442.7,266.5 443.0,280.0 443.3,267.6 443.6,273.1 443.9,286.9 444.2,269.1 444.5,259.7 444.8,264.5 445.1,267.5 445.4,265.8 445.7,272.4 446.0,255.7 446.3,255.4 446.6,259.8 446.9,260.3 447.2,267.3 447.5,255.0 447.8,251.5 448.1,262.8 448.4,257.1 448.7,249.1 449.0,262.0 449.3,247.8 449.6,252.3 449.9,249.5 450.2,254.2 450.5,247.6 450.8,244.6 451.1,249.4 451.4,245.5 451.7,241.1 452.0,239.3 452.3,243.7 452.6,236.5 452.9,239.0 453.2,243.1 453.5,242.9 453.8,241.4 454.1,232.5 454.4,229.2 454.7,239.1 455.0,234.4 455.6,235.4 456.1,242.0 456.6,246.0 457.2,226.9 457.8,223.6 458.3,188.2 458.9,195.9 459.4,202.6 460.0,230.9 460.3,253.7 461.1,224.5 461.6,201.2 462.2,218.9 462.8,150.0 463.2,182.0 463.6,141.0 464.0,172.0 464.4,133.0 464.8,163.0 465.2,124.0 465.6,152.0 466.0,112.0 466.3,140.0 466.6,80.2 466.9,140.0 467.2,116.0 467.6,152.0 468.0,128.0 468.4,162.0 468.8,140.0 469.2,176.0 469.6,152.0 470.0,196.0 470.2,225.3 470.8,219.5 471.3,173.4 471.9,223.4 472.4,215.5 473.0,176.4 473.5,212.5 474.1,221.1 474.4,242.5 475.2,188.5 475.7,145.1 476.3,161.8 476.8,171.6 477.4,165.4 477.9,144.5 478.5,203.3 479.0,130.1 479.6,140.3 474.4,242.5 479.8,146.9 480.0,132.1 480.3,124.9 480.5,129.5 480.7,156.4 480.9,154.7 481.1,178.2 481.4,190.5 481.6,122.9 481.8,181.0 482.0,189.1 482.2,188.1 482.5,145.4 482.7,169.1 482.9,174.1 483.1,127.3 483.3,136.8 483.6,143.8 483.8,136.2 484.0,142.6 484.2,143.8 484.4,153.3 484.7,146.4 484.9,125.5 485.1,132.1 485.3,175.4 485.5,190.7 485.8,121.5 486.0,165.3 486.1,221.7 486.4,164.7 486.6,153.4 486.9,148.4 487.1,142.8 487.3,176.8 487.5,119.3 487.7,123.6 488.0,156.1 488.2,143.4 488.4,118.7 488.6,166.2 488.8,174.5 489.1,120.6 489.3,127.0 489.5,131.0 489.7,142.8 489.9,179.6 490.2,137.4 490.4,123.4 490.6,131.9 490.8,155.8 491.0,171.9 491.3,165.1 491.4,183.5 491.7,114.5 491.9,131.7 492.1,158.5 492.4,137.0 492.6,146.6 492.8,169.4 493.0,123.8 493.2,144.7 493.5,116.3 493.7,125.6 493.9,149.5 494.1,168.8 494.3,145.9 494.6,143.6 494.8,189.9 495.0,146.9 495.2,124.3 495.4,168.0 495.7,125.9 495.9,133.4 496.1,124.8 496.3,170.1 496.5,143.5 496.7,181.0 497.0,165.3 497.2,181.9 497.4,137.7 497.6,155.3 497.9,140.7 498.1,111.8 498.3,125.1 498.5,165.2 498.7,163.3 499.0,119.4 499.2,141.6 499.4,148.5 499.6,122.6 499.8,159.6 500.1,126.5 500.3,139.6 500.5,167.7 500.7,111.4 500.9,107.7 501.2,171.0 501.4,183.1 501.6,155.0 501.8,164.0 502.0,142.6 502.3,127.9 502.5,145.8 502.7,157.1 502.9,174.8 503.1,132.1 503.4,185.5 503.6,137.5 503.8,149.4 504.0,190.0 504.2,180.2 504.5,111.8 504.7,145.7 504.9,163.7 505.1,138.8 505.3,119.0 505.6,168.0 505.8,158.0 506.0,109.4 506.2,163.8 506.4,120.1 506.7,120.0 506.9,112.6 507.1,157.2 507.3,149.8 507.5,113.7 507.8,120.0 508.0,212.5 508.2,136.0 508.4,115.7 508.6,116.8 508.9,153.4 509.1,168.0 509.3,157.9 509.5,110.8 509.7,126.1 510.0,145.2 510.2,120.6 510.4,152.7 510.6,135.9 510.8,119.1 511.1,179.1 511.3,136.3 511.5,140.2 511.7,167.0 511.9,143.1 512.2,124.7 512.4,123.9 512.6,128.8 512.8,146.9 513.0,113.8 513.3,112.2 513.5,146.0 513.7,161.2 514.0,183.0 514.1,114.3 514.4,146.0 514.6,151.4 514.8,162.7 515.0,132.2 515.2,140.7 515.5,114.6 515.7,110.9 515.9,135.5 516.1,160.9 516.3,152.7 516.6,138.3 516.8,119.7 517.0,158.2 517.2,114.0 517.4,125.2 517.7,132.8 517.9,159.9 518.1,114.7 518.3,138.9 518.5,123.1 518.8,128.4 519.0,195.3 519.2,178.7 519.4,111.7 519.6,160.4 519.9,158.1 520.1,108.0 520.3,155.6 520.5,164.5 520.7,146.0 521.0,115.6 521.2,161.2 521.4,117.7 521.6,133.3 521.8,122.1 522.1,151.2 522.3,144.8 522.5,113.1 522.7,124.1 522.9,135.4 523.2,111.7 523.4,112.8 523.6,154.6 523.8,154.8 524.0,148.9 524.3,131.4 524.5,122.4 524.7,110.6 524.9,146.0 525.1,159.7 525.4,134.2 525.6,175.8 525.8,162.1 526.0,181.0 526.2,118.1 526.5,159.5 526.7,107.0 526.9,130.7 527.1,155.3 527.3,112.6 527.6,141.7 527.8,120.8 528.0,147.3 528.2,163.8 528.4,120.6 528.7,118.9 528.9,113.1 529.1,109.5 529.3,125.0 529.5,161.0 529.8,103.4 530.0,136.3 530.2,131.5 530.4,148.4 530.6,109.4 530.9,120.2 531.1,134.9 531.3,150.9 531.5,160.8 531.7,144.6 532.0,155.8 532.2,122.1 532.4,143.8 532.6,146.8 532.8,133.1 533.1,138.2 533.3,146.7 533.5,127.4 533.7,124.6 533.9,166.9 534.2,112.9 534.4,155.2 534.6,158.9 534.8,162.1 535.0,155.7 535.3,109.0 535.5,108.9 535.7,111.5 535.9,129.0 536.1,111.7 536.4,121.7 536.6,136.3 536.8,139.8 537.0,136.4 537.2,119.5 537.5,143.3 537.7,119.9 537.9,142.9 538.1,119.6 538.3,107.7 538.6,162.2 538.8,104.6 539.0,120.3 539.2,139.7 539.4,103.0 539.7,114.2 539.9,129.4 540.1,123.7 540.3,121.9 540.5,129.8 540.8,161.5 541.0,113.0 541.2,112.2 541.4,145.4 541.6,148.5 541.9,126.5 542.1,134.6 542.3,134.8 542.5,137.8 542.7,159.8 543.0,111.4 543.2,114.9 543.4,106.8 543.6,175.6 543.8,131.1 544.1,148.9 544.3,161.2 544.5,133.3 544.7,160.8 544.9,159.6 545.2,139.7 545.4,132.2 545.6,139.8 545.8,157.9 546.0,163.9 546.3,144.9 546.5,163.7 546.7,174.3 546.9,126.9 547.1,132.8 547.4,128.5 547.6,159.1 547.8,125.1 548.0,143.1 548.2,147.3 548.5,118.2 548.7,154.2 548.9,114.9 549.1,143.2 549.3,137.1 549.6,114.2 549.8,122.3 550.0,116.8 550.2,162.7 550.4,158.6 550.7,151.2 550.9,129.2 551.0,172.0 551.3,140.0 551.5,105.7 551.8,138.4 552.0,125.2 552.2,111.3 552.4,123.6 552.6,118.1 552.9,127.9 553.1,116.7 553.3,136.9 553.5,138.9 553.7,131.7 554.0,126.0 554.2,140.9 554.4,158.3 554.6,145.4 554.8,126.2 555.1,126.9 555.3,165.2 555.5,159.3 555.7,122.8 555.9,126.6 556.2,106.9 556.4,152.0 556.6,112.1 556.8,128.9 557.0,109.2 557.3,150.3 557.5,135.0 557.7,115.3 557.9,114.0 558.1,158.0 558.4,142.0 558.6,124.1 558.8,155.3 559.0,121.0 559.2,125.7 559.5,111.4 559.7,118.6 559.9,179.5 560.1,152.0 560.3,111.3 560.6,125.7 560.8,105.3 561.0,113.0 561.2,167.6 561.4,168.5 561.7,134.3 561.9,125.8 562.1,115.6 562.3,121.4 562.5,128.7 562.8,114.5 563.0,108.7 563.2,160.1 563.4,117.5 563.6,145.1 563.9,110.9 564.1,159.1 564.3,153.9 564.5,101.7 564.7,114.6 565.0,109.9 565.2,168.3 565.4,144.6 565.6,164.0 565.8,165.3 566.1,167.7 566.3,105.7 566.5,142.5 566.7,145.4 566.9,169.1 567.2,147.8 567.4,128.7 567.6,112.5 567.8,181.7 568.0,137.7 568.3,149.4 568.5,123.6 568.7,114.3 568.9,160.4 569.1,174.0 569.4,110.8 569.6,101.2 569.8,142.4 570.0,145.5 570.2,128.8 570.5,139.6 570.7,155.7 570.9,159.7 571.1,151.3 571.3,158.5 571.6,108.7 571.8,111.1 572.0,159.8 572.2,125.9 572.4,149.8 572.7,138.5 572.9,103.9 573.1,104.5 573.3,124.8 573.5,146.1 573.8,102.9 574.0,122.6 574.2,124.8 574.4,123.2 574.6,110.2 574.9,141.1 575.1,101.3 575.3,110.4 575.5,136.4 575.7,114.7 576.0,136.7 576.2,122.0 576.4,112.4 576.6,110.1 576.8,97.1 577.1,132.6 577.3,91.0 577.5,97.8 577.7,103.2 577.9,132.5 578.2,123.1 578.4,88.3 578.6,124.5 578.8,100.5 579.0,115.9 579.3,126.1 579.5,118.9 579.7,128.7 579.9,79.6 580.1,131.5 580.4,84.6 580.6,76.1 580.8,72.1 581.0,72.0 581.2,113.7 581.5,68.9 581.7,71.8 581.9,91.1 582.1,76.9 582.3,59.9 582.6,25.0 582.9,25.0 583.2,65.8 583.5,108.8 583.8,74.5 584.1,78.8 584.4,91.0 584.7,131.2 585.0,102.6 585.3,105.9 585.6,132.6 585.9,136.1 586.2,126.3 586.5,134.0 586.8,136.0 587.1,146.3 587.4,144.0 587.7,149.8 588.0,151.2 588.3,139.9 588.6,144.1 588.9,148.1 589.2,152.1 589.5,145.5 589.8,146.8 590.1,146.5 590.4,152.3 590.7,153.3 591.0,150.4 591.3,151.3 591.6,155.2 591.9,155.2 592.2,155.1 592.5,157.0 592.8,157.2 593.1,159.2 593.4,160.4 593.7,158.9 594.0,161.7 594.3,162.7 594.6,162.1 594.9,164.2 595.2,164.0 595.5,164.3 595.8,166.0 596.1,167.4 596.4,168.7 596.7,169.3 597.0,167.5 597.3,169.7 597.6,169.8 597.9,171.0 598.2,171.8 598.5,170.0 598.8,172.5 599.1,171.4 599.4,172.5 599.7,171.9 600.0,175.3 600.3,174.8 600.6,175.5 600.9,175.3 601.2,175.5 601.5,175.6 601.8,176.1 602.1,177.0 602.4,178.6 602.7,176.8 603.0,179.7 603.3,177.7 603.6,180.7 603.9,180.6 604.2,181.0 604.5,181.3 604.8,181.5 605.1,182.4 605.4,180.5 605.7,182.6 606.0,181.0 606.3,182.5 606.6,183.8 606.9,183.7 607.2,183.9 607.5,183.1 607.8,185.1 608.1,184.2 608.4,185.1 608.7,186.6 609.0,185.6 609.3,186.6 609.6,186.3 609.9,187.2 610.2,186.4 610.5,186.5 610.8,186.9 611.1,188.4 611.4,187.6 611.7,187.9 612.0,189.1 612.3,188.6 612.6,189.6 612.9,188.8 613.2,189.0 613.5,190.1 613.8,189.7 614.1,189.8 614.4,189.6 614.7,191.9 615.0,191.3 615.3,191.9 615.6,192.5 615.9,192.8 616.2,192.5 616.5,193.3 616.8,192.5 617.1,192.5 617.4,192.4 617.7,193.0 618.0,193.5 618.3,193.1 618.6,194.5 618.9,193.0 619.2,194.8 619.5,194.4 619.8,194.2 620.1,194.1 620.4,193.8 620.7,194.0 621.0,194.0 621.3,195.0 621.6,196.0 621.9,195.1 622.2,195.1 622.5,195.9 622.8,195.8 623.1,196.0 623.4,195.4 623.7,196.3 624.0,196.3 624.3,197.6 624.6,197.7 624.9,196.9 625.2,197.9 625.5,197.4 625.8,196.8 626.1,198.4 626.4,197.7 626.7,198.0 627.0,198.5 627.3,198.0 627.6,198.5 627.9,198.4 628.2,198.6 628.5,198.8 628.8,199.7 629.1,199.5 629.4,199.3 629.7,199.4 630.0,199.7 630.3,199.5 630.6,200.7 630.9,200.2 631.2,200.5 631.5,199.8 631.8,201.4 632.1,200.9 632.4,201.9 632.7,200.6 633.0,201.1 633.3,201.9 633.6,201.8 633.9,202.5 634.2,202.4 634.5,202.9 634.8,203.0 635.1,201.9 635.4,203.6 635.7,202.6 636.0,203.1 636.3,203.5 636.6,204.2 636.9,203.5 637.2,203.3 637.5,203.6 637.8,204.8 638.1,204.1 638.4,205.1 638.7,205.3 639.0,205.8 639.3,206.0 639.6,205.4 639.9,206.2 640.2,206.0 640.5,206.1 640.8,206.4 641.1,206.4 641.4,207.3 641.7,206.5 642.0,207.5 642.3,207.5 642.6,207.5 642.9,207.4 643.2,207.7 643.5,208.4 643.8,208.5 644.1,208.1 644.4,208.5 644.7,209.1 645.0,208.5 645.3,209.0 645.6,209.4 645.9,209.1 646.2,209.4 646.5,210.0 646.8,209.8 647.1,210.2 647.4,210.3 647.7,210.0 648.0,210.1 648.3,210.6 648.6,210.5 648.9,210.5 649.2,210.6 649.5,211.3 649.8,211.3 650.1,211.6 650.4,211.2 650.7,211.8 651.0,211.6 651.3,212.2 651.6,212.1 651.9,211.6 652.2,212.5 652.5,212.1 652.8,212.8 653.1,212.4 653.4,212.9 653.7,212.8 654.0,212.9 654.3,212.7 654.6,213.6 654.9,213.6 655.2,213.8 655.5,213.4 655.8,213.8 656.1,213.9 656.4,213.7 656.7,214.1 657.0,214.4 657.3,214.3 657.6,214.3 657.9,214.2 658.2,214.5 658.5,214.1 658.8,214.4 659.1,214.9 659.4,215.0 659.7,214.7 660.0,215.0 660.3,215.6 660.6,215.0 660.9,215.0 661.2,215.4 661.5,215.5 661.8,215.7 662.1,215.5 662.4,216.0 662.7,215.9 663.0,215.7 663.3,216.3 663.6,216.4 663.9,216.3 664.2,216.4 664.5,216.8 664.8,216.7 665.1,216.7 665.4,217.0 665.7,216.9 666.0,217.0 666.3,216.7 666.6,216.9 666.9,217.0 667.2,217.4" stroke="#2196f3" stroke-width="1.85"/>
<polyline points="404.0,228.2 404.5,228.1 405.0,228.0 405.5,227.8 406.0,227.7 406.5,227.6 407.0,227.5 407.5,227.4 408.0,227.2 408.5,227.1 409.0,227.0 409.5,226.9 410.0,226.7 410.5,226.6 411.0,226.5 411.5,226.4 412.0,226.3 412.5,226.1 413.0,226.0 413.5,225.9 414.0,225.8 414.5,225.6 415.0,225.5 415.5,225.4 416.0,225.3 416.5,225.2 417.0,225.0 417.5,224.9 418.0,224.8 418.5,224.7 419.0,224.5 419.5,224.4 420.0,224.3 420.5,224.2 421.0,224.1 421.5,223.9 422.0,223.8 422.5,223.7 423.0,223.6 423.5,223.5 424.0,223.3 424.5,223.2 425.0,223.1 425.5,223.0 426.0,222.9 426.5,222.8 427.0,222.6 427.5,222.5 428.0,222.4 428.5,222.3 429.0,222.2 429.5,222.0 430.0,221.9 430.5,221.8 431.0,221.7 431.5,221.6 432.0,221.4 432.5,221.3 433.0,221.2 433.5,221.1 434.0,220.9 434.5,220.8 435.0,220.7 435.5,220.5 436.0,220.4 436.5,220.3 437.0,220.1 437.5,220.0 438.0,219.8 438.5,219.7 439.0,219.5 439.5,219.4 440.0,219.2 440.5,219.1 441.0,218.9 441.5,218.8 442.0,218.6 442.5,218.5 443.0,218.3 443.5,218.2 444.0,218.0 444.5,217.8 445.0,217.7 445.5,217.5 446.0,217.3 446.5,217.2 447.0,217.0 447.5,216.8 448.0,216.7 448.5,216.5 449.0,216.3 449.5,216.1 450.0,215.9 450.5,215.7 451.0,215.5 451.5,215.4 452.0,215.2 452.5,215.0 453.0,214.8 453.5,214.5 454.0,214.3 454.5,214.1 455.0,213.9 455.5,213.7 456.0,213.4 456.5,213.2 457.0,213.0 457.5,212.7 458.0,212.5 458.5,212.2 459.0,212.0 459.5,211.7 460.0,211.5 460.5,211.2 461.0,210.9 461.5,210.7 462.0,210.4 462.5,210.1 463.0,209.8 463.5,209.6 464.0,209.3 464.5,209.0 465.0,208.8 465.5,208.5 466.0,208.2 466.5,207.9 467.0,207.6 467.5,207.3 468.0,207.0 468.5,206.7 469.0,206.3 469.5,205.9 470.0,205.5 470.5,205.1 471.0,204.7 471.5,204.2 472.0,203.6 472.5,203.0 473.0,202.4 473.5,201.6 474.0,200.7 474.5,199.5 475.0,197.7 475.2,197.0 475.3,195.0 475.5,209.9 475.6,169.9 475.8,211.6 476.0,244.0 476.1,147.7 476.3,234.8 476.4,213.1 476.6,162.7 476.7,181.1 476.9,138.2 477.1,161.2 477.2,145.0 477.4,150.2 477.5,181.9 477.7,197.4 477.9,202.4 478.0,174.0 478.2,157.0 478.3,148.7 478.5,170.2 478.7,190.8 478.8,128.1 479.0,174.0 479.1,153.9 479.3,145.7 479.5,184.6 479.6,128.5 479.8,165.0 479.9,146.9 480.1,143.8 480.3,156.8 480.4,148.4 480.6,179.2 480.7,135.4 480.9,119.8 481.1,146.2 481.2,125.0 481.4,128.9 481.5,175.7 481.7,110.6 481.9,165.5 482.0,165.4 482.2,137.6 482.3,109.5 482.5,161.8 482.7,147.9 482.8,112.1 483.0,174.3 483.1,135.4 483.3,115.6 483.5,118.6 483.6,110.8 483.8,113.3 483.9,109.2 484.1,108.1 484.3,118.0 484.4,121.0 484.6,142.3 484.7,132.6 484.9,143.7 485.1,123.7 485.2,107.0 485.4,140.6 485.5,108.3 485.7,106.3 485.9,135.3 486.0,113.5 486.2,151.0 486.3,109.5 486.5,120.6 486.7,118.6 486.8,131.5 487.0,113.7 487.1,101.0 487.3,109.2 487.5,115.2 487.6,161.1 487.8,161.4 487.9,100.9 488.1,101.1 488.3,104.6 488.4,100.9 488.6,115.8 488.7,156.4 488.9,116.7 489.1,153.9 489.2,145.8 489.4,98.6 489.5,149.4 489.7,102.3 489.9,173.0 490.0,138.5 490.2,97.9 490.3,117.8 490.5,108.4 490.7,101.1 490.8,112.9 491.0,118.8 491.1,154.5 491.3,95.8 491.5,114.1 491.6,127.3 491.8,105.1 491.9,106.0 492.1,121.4 492.3,95.1 492.4,151.4 492.6,135.5 492.7,132.3 492.9,144.3 493.1,106.4 493.2,90.5 493.4,94.5 493.5,99.5 493.7,140.3 493.9,136.8 494.0,98.5 494.2,145.4 494.3,129.5 494.5,116.9 494.7,116.4 494.8,139.3 495.0,110.3 495.1,120.1 495.3,118.6 495.5,105.3 495.6,118.3 495.8,138.1 495.9,117.0 496.1,104.9 496.3,100.3 496.4,93.7 496.6,120.8 496.7,94.4 496.9,105.7 497.0,168.0 497.2,135.4 497.4,124.2 497.5,112.8 497.7,97.6 497.9,97.0 498.0,104.5 498.2,91.8 498.3,107.3 498.5,115.3 498.7,128.7 498.8,121.6 499.0,130.2 499.1,101.7 499.3,152.4 499.5,92.4 499.6,103.4 499.8,113.0 499.9,102.9 500.1,94.2 500.3,125.9 500.4,109.6 500.6,92.5 500.7,114.5 500.9,144.5 501.1,104.6 501.2,87.6 501.4,119.5 501.5,94.2 501.7,102.5 501.9,114.3 502.0,109.2 502.2,107.0 502.3,108.5 502.5,102.7 502.7,132.8 502.8,117.8 503.0,98.5 503.1,109.0 503.3,98.9 503.5,143.2 503.6,132.1 503.8,106.7 503.9,93.7 504.1,141.4 504.3,125.7 504.4,123.5 504.6,128.9 504.7,111.5 504.9,96.6 505.1,141.4 505.2,89.9 505.4,101.5 505.5,93.4 505.7,131.7 505.9,146.8 506.0,94.5 506.2,134.0 506.3,136.9 506.5,134.4 506.7,114.6 506.8,100.4 507.0,102.9 507.1,144.1 507.3,136.1 507.5,118.6 507.6,92.8 507.8,114.5 507.9,103.1 508.1,92.1 508.3,111.9 508.4,105.5 508.6,100.3 508.7,135.5 508.9,90.0 509.1,84.9 509.2,102.8 509.4,85.5 509.5,86.3 509.7,96.1 509.9,120.3 510.0,136.7 510.2,113.8 510.3,104.2 510.5,103.3 510.7,102.0 510.8,90.0 511.0,135.8 511.1,112.8 511.3,98.2 511.5,84.6 511.6,93.3 511.8,137.3 512.0,170.0 512.1,88.6 512.3,122.3 512.4,84.4 512.6,131.0 512.7,105.2 512.9,130.8 513.1,108.0 513.2,112.0 513.4,87.4 513.5,131.3 513.7,103.5 513.9,130.4 514.0,84.1 514.2,137.9 514.3,87.0 514.5,97.2 514.7,85.5 514.8,99.8 515.0,95.5 515.1,126.6 515.3,95.0 515.5,123.3 515.6,81.8 515.8,123.6 515.9,93.8 516.1,103.2 516.3,107.3 516.4,88.5 516.6,109.9 516.7,116.0 516.9,93.7 517.1,94.5 517.2,119.6 517.4,105.0 517.5,130.8 517.7,108.9 517.9,97.8 518.0,131.9 518.2,90.9 518.3,147.4 518.5,100.9 518.7,87.0 518.8,103.4 519.0,114.4 519.1,113.2 519.3,100.7 519.5,109.3 519.6,113.7 519.8,88.7 519.9,84.4 520.1,120.8 520.3,129.6 520.4,119.0 520.6,105.5 520.7,91.2 520.9,97.8 521.1,104.0 521.2,99.1 521.4,87.3 521.5,86.0 521.7,110.4 521.9,91.4 522.0,117.7 522.2,95.3 522.3,127.9 522.5,123.2 522.7,121.0 522.8,113.7 523.0,102.1 523.1,107.0 523.3,119.6 523.5,116.1 523.6,99.5 523.8,85.8 523.9,98.9 524.1,113.4 524.3,82.0 524.4,89.4 524.6,91.0 524.7,104.3 524.9,109.2 525.1,90.9 525.2,125.6 525.4,101.8 525.5,97.8 525.7,121.2 525.9,84.1 526.0,83.1 526.2,128.5 526.3,111.3 526.5,124.7 526.7,140.1 526.8,80.3 527.0,121.8 527.1,78.3 527.3,117.7 527.5,117.3 527.6,114.6 527.8,80.7 527.9,108.2 528.1,123.6 528.3,81.7 528.4,89.6 528.6,122.3 528.7,88.3 528.9,79.2 529.1,125.9 529.2,88.5 529.4,120.5 529.5,82.1 529.7,112.1 529.9,116.7 530.0,172.0 530.2,88.4 530.3,89.4 530.5,125.1 530.7,121.0 530.8,115.9 531.0,101.1 531.1,83.0 531.3,96.4 531.5,100.4 531.6,111.2 531.8,90.1 531.9,88.8 532.1,144.4 532.3,94.1 532.4,125.3 532.6,132.1 532.7,124.8 532.9,82.5 533.1,101.4 533.2,89.6 533.4,96.2 533.5,128.0 533.7,93.9 533.9,115.5 534.0,115.6 534.2,105.7 534.3,91.0 534.5,96.7 534.7,124.4 534.8,81.9 535.0,103.3 535.1,110.7 535.3,106.5 535.5,84.0 535.6,103.2 535.8,124.4 535.9,92.2 536.1,88.8 536.3,88.2 536.4,121.9 536.6,107.7 536.7,100.8 536.9,139.4 537.1,94.5 537.2,119.1 537.4,110.4 537.5,132.1 537.7,112.5 537.9,96.3 538.0,100.4 538.2,92.9 538.3,79.3 538.5,110.9 538.7,105.2 538.8,107.2 539.0,79.3 539.1,109.4 539.3,88.9 539.5,122.4 539.6,104.1 539.8,113.9 539.9,138.7 540.1,100.7 540.3,92.7 540.4,100.3 540.6,105.6 540.7,112.9 540.9,127.6 541.1,103.1 541.2,113.3 541.4,86.6 541.5,132.1 541.7,118.7 541.9,125.0 542.0,109.4 542.2,102.0 542.3,153.1 542.5,99.1 542.7,83.6 542.8,112.8 543.0,84.3 543.1,135.6 543.3,101.8 543.5,123.9 543.6,104.0 543.8,91.4 543.9,125.6 544.1,134.2 544.3,105.0 544.4,85.4 544.6,163.4 544.7,85.0 544.9,117.6 545.1,128.3 545.2,131.7 545.4,112.3 545.5,143.2 545.7,112.8 545.9,148.1 546.0,114.9 546.2,127.4 546.3,116.9 546.5,133.3 546.7,83.3 546.8,101.1 547.0,128.3 547.1,114.4 547.3,108.7 547.5,101.1 547.6,127.5 547.8,87.9 548.0,171.0 548.1,139.3 548.3,89.0 548.4,108.4 548.6,131.3 548.7,94.5 548.9,91.0 549.1,128.2 549.2,119.2 549.4,115.6 549.5,112.7 549.7,116.4 549.9,103.9 550.0,126.0 550.2,87.4 550.3,82.6 550.5,98.1 550.7,102.0 550.8,99.3 551.0,129.0 551.1,127.5 551.3,81.1 551.5,115.2 551.6,131.0 551.8,109.6 551.9,86.8 552.1,121.7 552.3,124.3 552.4,107.7 552.6,122.8 552.7,109.5 552.9,91.3 553.1,112.7 553.2,80.2 553.4,89.6 553.5,144.3 553.7,116.1 553.9,140.2 554.0,134.6 554.2,91.9 554.3,96.4 554.5,119.6 554.7,112.0 554.8,118.8 555.0,110.5 555.1,124.5 555.3,87.6 555.5,126.8 555.6,86.6 555.8,145.7 555.9,88.6 556.1,117.7 556.3,143.3 556.4,146.2 556.6,147.2 556.7,125.8 556.9,116.2 557.1,122.5 557.2,143.8 557.4,108.1 557.5,98.5 557.7,144.4 557.9,107.4 558.0,112.2 558.2,139.9 558.3,98.1 558.5,129.5 558.7,145.9 558.8,98.4 559.0,114.4 559.1,121.0 559.3,115.0 559.5,110.0 559.6,93.4 559.8,112.4 559.9,120.6 560.1,136.7 560.3,134.2 560.4,90.8 560.6,117.6 560.7,120.4 560.9,114.9 561.1,87.5 561.2,122.2 561.4,121.0 561.5,87.0 561.7,93.2 561.9,113.9 562.0,107.4 562.2,89.3 562.3,128.8 562.5,115.2 562.7,146.9 562.8,90.6 563.0,88.2 563.1,103.1 563.3,90.1 563.5,87.6 563.6,122.6 563.8,146.5 563.9,104.3 564.1,128.4 564.3,131.3 564.5,181.0 564.6,93.5 564.7,93.0 564.9,133.8 565.1,107.1 565.2,109.9 565.4,115.2 565.5,122.7 565.7,112.1 565.9,113.5 566.0,134.0 566.2,108.4 566.3,136.1 566.5,131.8 566.7,111.9 566.8,103.7 567.0,103.7 567.1,108.5 567.3,106.6 567.5,106.8 567.6,127.4 567.8,117.8 567.9,106.6 568.1,125.7 568.3,104.9 568.4,103.3 568.6,116.6 568.7,104.1 568.9,108.1 569.1,106.7 569.2,102.8 569.4,117.8 569.5,138.2 569.7,103.8 569.9,115.8 570.0,136.6 570.3,147.2 570.6,129.7 570.9,161.9 571.2,151.0 571.5,153.0 571.8,164.7 572.1,131.1 572.4,210.6 572.7,133.8 573.0,186.5 573.3,120.8 573.6,150.2 573.9,161.8 574.2,171.0 574.5,136.1 574.8,118.5 575.1,184.6 575.4,121.4 575.7,142.4 576.0,173.5 576.3,131.5 576.5,214.8 576.9,176.4 577.2,170.2 577.5,138.0 577.8,140.7 578.1,150.1 578.4,138.8 578.7,162.6 579.0,178.7 579.3,194.8 579.6,164.0 579.8,213.0 580.2,150.7 580.5,197.2 580.8,152.5 581.1,193.8 581.4,189.0 581.7,167.9 582.0,169.7 582.3,200.2 582.6,182.8 582.9,192.9 583.2,173.4 583.5,188.1 583.8,188.6 584.1,177.7 584.4,187.8 584.7,192.4 585.0,183.4 585.3,200.4 585.5,218.9 585.9,198.4 586.2,184.7 586.5,195.8 586.8,195.9 587.2,234.5 587.4,204.6 587.7,195.9 588.0,195.8 588.3,198.5 588.6,198.9 588.9,203.7 589.2,206.7 589.3,207.8 589.8,208.0 590.3,208.2 590.8,208.4 591.3,208.5 591.8,208.7 592.3,208.9 592.8,209.1 593.3,209.3 593.8,209.4 594.3,209.6 594.8,209.8 595.3,210.0 595.8,210.2 596.3,210.3 596.8,210.5 597.3,210.7 597.8,210.9 598.3,211.1 598.8,211.2 599.3,211.4 599.8,211.6 600.3,211.7 600.8,211.9 601.3,212.1 601.8,212.3 602.3,212.4 602.8,212.6 603.3,212.8 603.8,212.9 604.3,213.1 604.8,213.3 605.3,213.5 605.8,213.6 606.3,213.8 606.8,214.0 607.3,214.1 607.8,214.3 608.3,214.4 608.8,214.6 609.3,214.8 609.8,214.9 610.3,215.1 610.8,215.3 611.3,215.4 611.8,215.6 612.3,215.7 612.8,215.9 613.3,216.1 613.8,216.2 614.3,216.4 614.8,216.5 615.3,216.7 615.8,216.8 616.3,217.0 616.8,217.2 617.3,217.3 617.8,217.5 618.3,217.6 618.8,217.8 619.3,217.9 619.8,218.1 620.3,218.2 620.8,218.4 621.3,218.5 621.8,218.7 622.3,218.9 622.8,219.0 623.3,219.2 623.8,219.3 624.3,219.4 624.8,219.6 625.3,219.7 625.8,219.9 626.3,220.0 626.8,220.2 627.3,220.3 627.8,220.5 628.3,220.6 628.8,220.8 629.3,220.9 629.8,221.0 630.3,221.2 630.8,221.3 631.3,221.4 631.8,221.6 632.3,221.7 632.8,221.9 633.3,222.0 633.8,222.1 634.3,222.3 634.8,222.4 635.3,222.5 635.8,222.6 636.3,222.8 636.8,222.9 637.3,223.0 637.8,223.1 638.3,223.3 638.8,223.4 639.3,223.5 639.8,223.6 640.3,223.8 640.8,223.9 641.3,224.0 641.8,224.1 642.3,224.2 642.8,224.4 643.3,224.5 643.8,224.6 644.3,224.7 644.8,224.8 645.3,224.9 645.8,225.0 646.3,225.2 646.8,225.3 647.3,225.4 647.8,225.5 648.3,225.6 648.8,225.7 649.3,225.8 649.8,226.0 650.3,226.1 650.8,226.2 651.3,226.3 651.8,226.4 652.3,226.5 652.8,226.6 653.3,226.7 653.8,226.9 654.3,227.0 654.8,227.1 655.3,227.2 655.8,227.3 656.3,227.4 656.8,227.5 657.3,227.7 657.8,227.8 658.3,227.9 658.8,228.0 659.3,228.1 659.8,228.2 660.3,228.3 660.8,228.5 661.3,228.6 661.8,228.7 662.3,228.8 662.8,228.9 663.3,229.0 663.8,229.2 664.3,229.3 664.8,229.4 665.3,229.5 665.8,229.6 666.3,229.7 666.8,229.8 667.3,230.0 667.5,230.0" stroke="#008000" stroke-width="1.85"/>
</g>
<rect x="403.75" y="6.00" width="263.80" height="287.45" fill="none" stroke="#000" stroke-width="1.05"/>
<text transform="translate(403.75,308.10) scale(0.937,1)" font-size="15.4" text-anchor="middle">0.305</text>
<text transform="translate(469.70,308.10) scale(0.937,1)" font-size="15.4" text-anchor="middle">0.310</text>
<text transform="translate(535.65,308.10) scale(0.937,1)" font-size="15.4" text-anchor="middle">0.315</text>
<text transform="translate(601.60,308.10) scale(0.937,1)" font-size="15.4" text-anchor="middle">0.320</text>
<text transform="translate(667.55,308.10) scale(0.937,1)" font-size="15.4" text-anchor="middle">0.325</text>
<text transform="translate(401.30,12.30) scale(0.937,1)" font-size="15.4" text-anchor="end">-40</text>
<text transform="translate(401.30,70.35) scale(0.937,1)" font-size="15.4" text-anchor="end">-60</text>
<text transform="translate(401.30,128.40) scale(0.937,1)" font-size="15.4" text-anchor="end">-80</text>
<text transform="translate(401.30,186.45) scale(0.937,1)" font-size="15.4" text-anchor="end">-100</text>
<text transform="translate(401.30,244.50) scale(0.937,1)" font-size="15.4" text-anchor="end">-120</text>
<text transform="translate(366.1,147.3) rotate(-90)" font-size="19.55">Amplitude [a. u.]</text>
<text transform="translate(666.7,327.4) scale(1.045,1)" font-size="18.6" text-anchor="end">Q<tspan font-size="12.7" dy="3.8">y</tspan></text>
<path d="M417.8,26.4H440.8" stroke="#2196f3" stroke-width="1.3" fill="none"/>
<path d="M417.8,47.4H440.8" stroke="#008000" stroke-width="1.3" fill="none"/>
<text transform="translate(452.00,31.50) scale(0.962,1)" font-size="14.9" text-anchor="start">sup. phase</text>
<text transform="translate(452.00,52.60) scale(0.962,1)" font-size="14.9" text-anchor="start">max. phase</text>
</g>
</svg>
</body>
</html>
